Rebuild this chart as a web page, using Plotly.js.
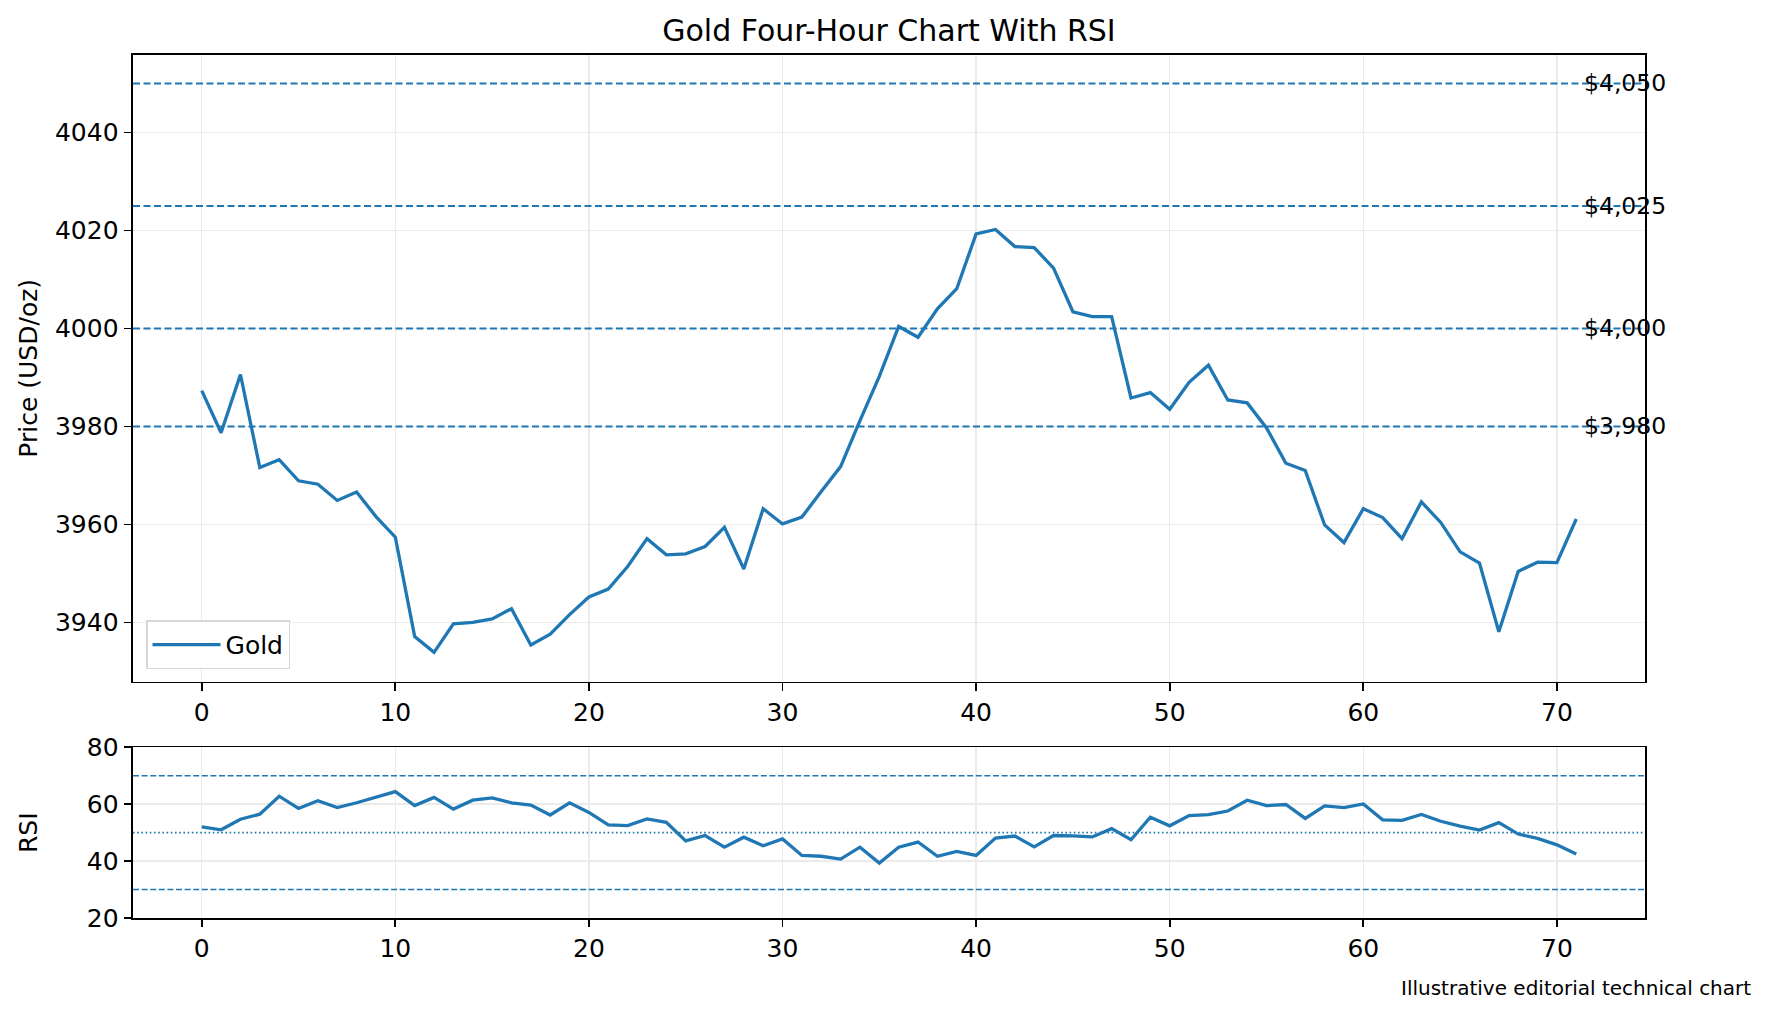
<html><head>
    <meta charset="utf8"/>
    <title>Gold 4H RSI</title>
    <script src="https://cdn.plot.ly/plotly-3.0.1.min.js"></script>
    <style>
        * { margin: 0px; padding: 0px }
        #chart { width: 1771px; height: 1017px }
    </style>
</head><body>
    <div id="chart"></div>
    <script>
    // four-hour closes
    var prices = [
        3987.3, 3978.7, 3990.6, 3971.6, 3973.2, 3968.9, 3968.2, 3964.9, 3966.6, 3961.6,
        3957.4, 3937.1, 3933.9, 3939.7, 3940.0, 3940.7, 3942.8, 3935.4, 3937.6, 3941.6,
        3945.2, 3946.8, 3951.4, 3957.1, 3953.8, 3954.0, 3955.5, 3959.4, 3950.9, 3963.2,
        3960.1, 3961.5, 3966.7, 3971.8, 3981.2, 3990.2, 4000.4, 3998.2, 4004.0, 4008.1,
        4019.3, 4020.2, 4016.7, 4016.5, 4012.3, 4003.4, 4002.4, 4002.4, 3985.8, 3986.9,
        3983.5, 3989.0, 3992.5, 3985.4, 3984.8, 3979.7, 3972.5, 3971.0, 3959.9, 3956.3,
        3963.2, 3961.4, 3957.1, 3964.6, 3960.4, 3954.4, 3952.1, 3938.1, 3950.4, 3952.3,
        3952.2, 3961.1
    ];
    var rsi = [
        52.0, 51.0, 54.7, 56.5, 62.8, 58.5, 61.2, 58.8, 60.5, 62.4,
        64.4, 59.5, 62.4, 58.3, 61.4, 62.2, 60.5, 59.7, 56.2, 60.5,
        57.1, 52.7, 52.5, 54.8, 53.6, 47.1, 49.0, 44.9, 48.4, 45.4,
        47.8, 42.0, 41.7, 40.7, 44.9, 39.3, 44.9, 46.7, 41.7, 43.4,
        42.0, 48.1, 48.8, 45.0, 49.0, 48.9, 48.5, 51.4, 47.5, 55.4,
        52.4, 56.0, 56.3, 57.6, 61.4, 59.5, 59.9, 55.0, 59.4, 58.8,
        60.1, 54.5, 54.3, 56.4, 54.0, 52.3, 50.9, 53.5, 49.5, 48.0,
        45.7, 42.5
    ];
    var bars = prices.map(function(p, i){ return i; });

    var levels = [4050, 4025, 4000, 3980];
    var levelLabels = ['$4,050', '$4,025', '$4,000', '$3,980'];
    var rsiBands = [70, 30];
    var rsiMid = 50;

    var xTicks = [0, 10, 20, 30, 40, 50, 60, 70];
    var priceTicks = [3940, 3960, 3980, 4000, 4020, 4040];
    var rsiTicks = [20, 40, 60, 80];

    var blue = '#1f77b4';
    var font = 'DejaVu Sans, sans-serif';
    var fs = 25;

    var traces = [
        {x: bars, y: prices, type: 'scatter', mode: 'lines', name: 'Gold',
         line: {color: blue, width: 3.3}, xaxis: 'x', yaxis: 'y'},
        {x: bars, y: rsi, type: 'scatter', mode: 'lines', name: 'RSI', showlegend: false,
         line: {color: blue, width: 3.3}, xaxis: 'x2', yaxis: 'y2'}
    ];

    var shapes = [];
    var annotations = [];
    levels.forEach(function(lv, i){
        shapes.push({type: 'line', xref: 'x domain', yref: 'y', x0: 0, x1: 1, y0: lv, y1: lv,
            line: {color: blue, width: 2, dash: '7px,3.5px'}, layer: 'above'});
        annotations.push({xref: 'x', yref: 'y', x: 71.3, y: lv, text: levelLabels[i],
            showarrow: false, xanchor: 'left', yanchor: 'middle',
            font: {family: font, size: 23.5, color: '#000'}});
    });
    rsiBands.forEach(function(lv){
        shapes.push({type: 'line', xref: 'x2 domain', yref: 'y2', x0: 0, x1: 1, y0: lv, y1: lv,
            line: {color: blue, width: 1.6, dash: '6px,2.6px'}, layer: 'above'});
    });
    shapes.push({type: 'line', xref: 'x2 domain', yref: 'y2', x0: 0, x1: 1, y0: rsiMid, y1: rsiMid,
        line: {color: blue, width: 1.6, dash: '1.6px,2.6px'}, layer: 'above'});

    // y titles as annotations so both line up like the original
    annotations.push({xref: 'paper', yref: 'paper', x: -0.0692, y: 0.637, text: 'Price (USD/oz)',
        textangle: -90, showarrow: false, xanchor: 'center', yanchor: 'middle',
        font: {family: font, size: fs, color: '#000'}});
    annotations.push({xref: 'paper', yref: 'paper', x: -0.0692, y: 0.0989, text: 'RSI',
        textangle: -90, showarrow: false, xanchor: 'center', yanchor: 'middle',
        font: {family: font, size: fs, color: '#000'}});
    annotations.push({xref: 'paper', yref: 'paper', x: 1.0714, y: -0.081,
        text: 'Illustrative editorial technical chart', showarrow: false,
        xanchor: 'right', yanchor: 'middle', font: {family: font, size: 20, color: '#000'}});

    function xax(anchor){
        return {anchor: anchor, range: [-3.55, 74.55], tickvals: xTicks, ticks: 'outside',
            ticklen: 7.7, tickwidth: 1.75, tickcolor: '#000', showline: true, mirror: true,
            linecolor: '#000', linewidth: 1.75, showgrid: true, gridcolor: '#ebebeb',
            gridwidth: 1.5, zeroline: false, tickfont: {family: font, size: fs, color: '#000'}};
    }
    function yax(anchor, dom, rng, ticks){
        return {anchor: anchor, domain: dom, range: rng, tickvals: ticks, ticks: 'outside',
            ticklen: 7.7, tickwidth: 1.75, tickcolor: '#000', showline: true, mirror: true,
            linecolor: '#000', linewidth: 1.75, showgrid: true, gridcolor: '#ebebeb',
            gridwidth: 1.5, zeroline: false, tickfont: {family: font, size: fs, color: '#000'}};
    }

    var layout = {
        width: 1771, height: 1017,
        margin: {l: 133, r: 126, t: 55, b: 99},
        paper_bgcolor: '#fff', plot_bgcolor: '#fff',
        font: {family: font, color: '#000'},
        title: {text: 'Gold Four-Hour Chart With RSI', x: 0.5, xref: 'paper',
            y: 0.970, yref: 'container', yanchor: 'middle',
            font: {family: font, size: 30, color: '#000'}},
        xaxis: xax('y'),
        yaxis: yax('x', [0.2738, 1], [3927.9, 4055.8], priceTicks),
        xaxis2: xax('y2'),
        yaxis2: yax('x2', [0, 0.1978], [20, 80], rsiTicks),
        showlegend: true,
        legend: {x: 0.0086, y: 0.2882, xanchor: 'left', yanchor: 'bottom',
            bgcolor: '#fff', bordercolor: '#d6d6d6', borderwidth: 1.5, itemwidth: 68,
            font: {family: font, size: fs, color: '#000'}},
        shapes: shapes,
        annotations: annotations
    };

    Plotly.newPlot('chart', traces, layout, {displayModeBar: false, staticPlot: true});
    </script>
</body></html>
